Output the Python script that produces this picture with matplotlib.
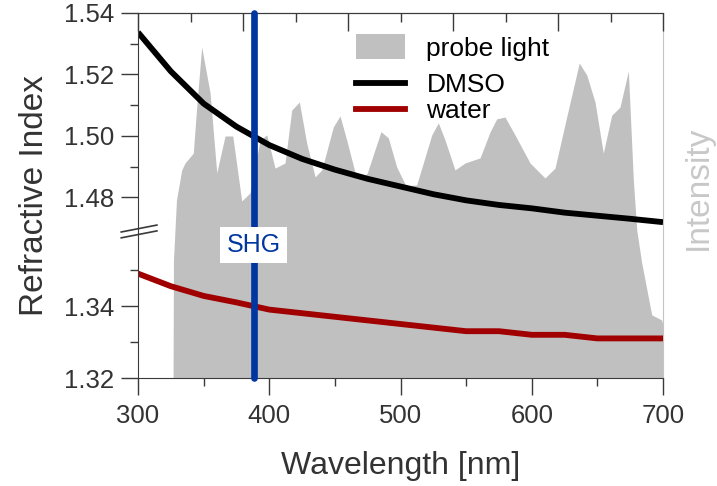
import matplotlib
matplotlib.use("Agg")
import matplotlib.pyplot as plt
import numpy as np
from matplotlib.lines import Line2D
from matplotlib.patches import Patch
from matplotlib.ticker import FixedLocator, MultipleLocator

plt.rcParams["font.family"] = ["Liberation Sans", "DejaVu Sans"]

# refractive index of the two solvents
wavelength = [300, 325, 350, 375, 400, 425, 450, 475, 500, 525, 550, 575, 600, 625, 650, 675, 700]
dmso_n = [1.5337, 1.5210, 1.5105, 1.5030, 1.4970, 1.4925, 1.4890, 1.4860, 1.4835, 1.4810,
          1.4790, 1.4775, 1.4764, 1.4750, 1.4740, 1.4730, 1.4719]
water_n = [1.3490, 1.3455, 1.3428, 1.3410, 1.3390, 1.3380, 1.3370, 1.3360, 1.3350, 1.3340,
           1.3330, 1.3330, 1.3320, 1.3320, 1.3310, 1.3310, 1.3310]

# probe light spectrum (normalised intensity)
probe_wl = [326.7, 327.0, 329.3, 333.3, 335.8, 342.1, 344.7, 348.5, 354.9, 360.0, 366.3, 372.2,
            379.0, 385.3, 393.0, 398.1, 404.4, 412.0, 417.1, 422.9, 428.5, 434.9, 440.0, 448.8,
            453.9, 459.0, 465.3, 470.4, 474.7, 485.1, 490.7, 497.1, 504.2, 512.3, 523.8, 528.8,
            533.9, 541.5, 549.1, 560.6, 568.2, 573.3, 579.6, 587.2, 598.7, 610.1, 617.7, 626.6,
            636.2, 641.9, 648.2, 654.5, 660.9, 667.2, 673.6, 677.4, 680.0, 683.8, 691.4, 699.0,
            702.0]
probe_int = [0.0, 0.323, 0.488, 0.570, 0.589, 0.616, 0.742, 0.907, 0.781, 0.562, 0.663, 0.663,
             0.485, 0.507, 0.652, 0.666, 0.575, 0.589, 0.734, 0.756, 0.644, 0.551, 0.570, 0.688,
             0.718, 0.652, 0.564, 0.542, 0.562, 0.675, 0.658, 0.578, 0.526, 0.529, 0.666, 0.699,
             0.652, 0.570, 0.589, 0.603, 0.674, 0.710, 0.715, 0.666, 0.589, 0.548, 0.575, 0.715,
             0.863, 0.830, 0.756, 0.616, 0.720, 0.742, 0.841, 0.542, 0.405, 0.315, 0.173, 0.159,
             0.110]

shg_wl = 388

# broken y axis: lower band for water, upper band for DMSO
y_knots = [1.32, 1.36, 1.47, 1.54]
u_knots = [0.0, 144.0, 150.0, 365.0]


def fwd(y):
    return np.interp(y, y_knots, u_knots)


def inv(u):
    return np.interp(u, u_knots, y_knots)


dark = "#3a3a3a"
light = "#c4c4c4"

fig = plt.figure(figsize=(7.17, 4.86), dpi=100)
ax = fig.add_axes([0.1925, 0.2222, 0.7322, 0.7511])
tw = ax.twinx()
ax.set_zorder(tw.get_zorder() + 1)
ax.patch.set_visible(False)

tw.fill_between(probe_wl, 0, probe_int, color="#c0c0c0", linewidth=0)
tw.set_ylim(0, 1)
tw.set_yticks([])
tw.set_ylabel("Intensity", color="#c8c8c8", fontsize=24)
tw.yaxis.set_label_coords(1.038, 0.52)
for side in ["left", "top", "bottom"]:
    tw.spines[side].set_visible(False)
tw.spines["right"].set_color(light)

ax.plot(wavelength, dmso_n, color="black", lw=4.2, solid_capstyle="butt")
ax.plot(wavelength, water_n, color="#a00000", lw=4.2, solid_capstyle="butt")
ax.axvline(shg_wl, color="#0036a0", lw=4.8, solid_capstyle="round", clip_on=False, zorder=4)
ax.text(shg_wl, 0.364, "SHG", transform=ax.get_xaxis_transform(), ha="center", va="center",
        color="#0036a0", fontsize=18, zorder=5,
        bbox=dict(facecolor="white", edgecolor="none", boxstyle="square,pad=0.25"))

ax.set_yscale("function", functions=(fwd, inv))
ax.set_xlim(300, 700)
ax.set_ylim(1.32, 1.54)
ax.xaxis.set_major_locator(MultipleLocator(100))
ax.xaxis.set_minor_locator(MultipleLocator(50))
ax.yaxis.set_major_locator(FixedLocator([1.32, 1.34, 1.48, 1.50, 1.52, 1.54]))
ax.yaxis.set_minor_locator(FixedLocator([1.33, 1.35, 1.49, 1.51, 1.53]))
ax.set_yticklabels(["1.32", "1.34", "1.48", "1.50", "1.52", "1.54"])
ax.tick_params(which="both", direction="out", color=dark, labelcolor="#333333",
               labelsize=18.5, width=1.0, top=False, right=False)
ax.tick_params(which="major", length=12, pad=5)
ax.tick_params(axis="x", which="major", pad=7)
ax.tick_params(which="minor", length=6)
for side in ["left", "top", "bottom"]:
    ax.spines[side].set_color(dark)
ax.spines["right"].set_visible(False)

# unlabelled ticks along the top edge
top = ax.secondary_xaxis("top", functions=(lambda w: (w - 300) / 80.0, lambda t: t * 80.0 + 300))
top.xaxis.set_major_locator(MultipleLocator(1))
top.xaxis.set_minor_locator(MultipleLocator(0.5))
top.tick_params(which="both", direction="in", labeltop=False, color=dark, width=1.0)
top.tick_params(which="major", length=13)
top.tick_params(which="minor", length=6.5)
top.spines["top"].set_color(dark)

ax.set_xlabel("Wavelength [nm]", fontsize=23, color="#333333", labelpad=16)
ax.set_ylabel("Refractive Index", fontsize=24, color="#333333", labelpad=10)

# break marks on the left spine
for y0 in (0.384, 0.400):
    ax.plot([-0.032, 0.036], [y0, y0 + 0.019], transform=ax.transAxes, color=dark,
            lw=1.2, clip_on=False)

leg1 = ax.legend(handles=[Patch(facecolor="#c0c0c0", edgecolor="none")], labels=["probe light"],
                 loc="upper left", bbox_to_anchor=(0.396, 0.97), frameon=False, fontsize=19,
                 handlelength=1.85, handleheight=1.05, handletextpad=0.8, borderaxespad=0)
ax.add_artist(leg1)
ax.legend(handles=[Line2D([], [], color="black", lw=4.2), Line2D([], [], color="#a00000", lw=4.2)],
          labels=["DMSO", "water"], loc="upper left", bbox_to_anchor=(0.396, 0.865),
          frameon=False, fontsize=19, handlelength=1.85, handletextpad=0.8,
          labelspacing=0.08, borderaxespad=0)

fig.savefig("out.png", dpi=100)
